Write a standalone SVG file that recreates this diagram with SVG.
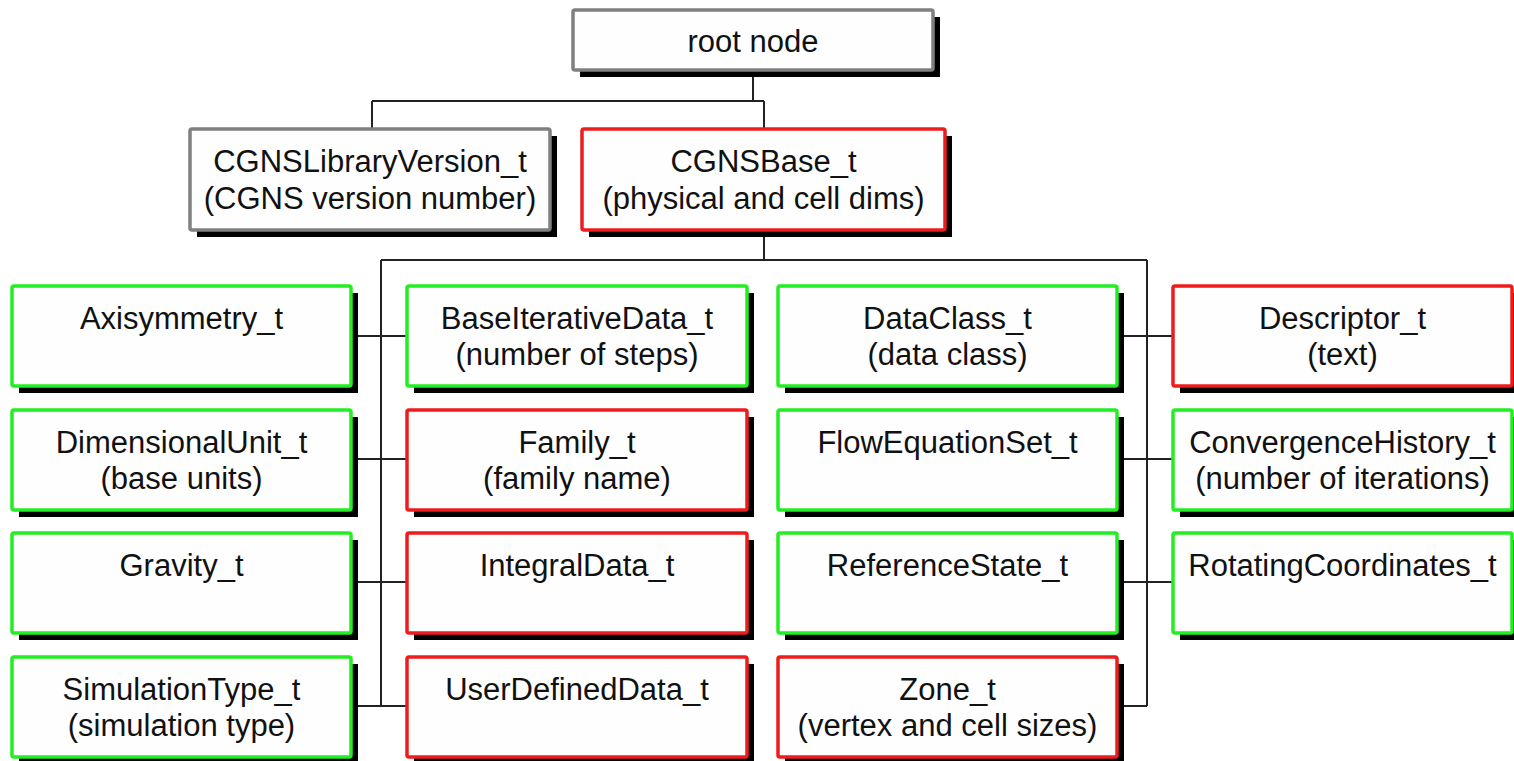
<svg xmlns="http://www.w3.org/2000/svg" width="1514" height="761" viewBox="0 0 1514 761">
<style>
.sh{fill:#000}
.bx{fill:#fefefe;stroke-width:3.5}
.g{stroke:#22ee22}
.r{stroke:#ee1c1c}
.k{stroke:#808080}
text{font-family:"Liberation Sans",Arial,sans-serif;font-size:31px;fill:#111;text-anchor:middle}
.c{stroke:#222;stroke-width:2;fill:none}
</style>
<rect width="1514" height="761" fill="#fff"/>
<g id="connectors">
<path class="c" d="M753 70V101M372 101H764M372 101V129M764 101V129"/>
<path class="c" d="M764 230V260M381 260H1147M381 260V706M1147 260V706"/>
<path class="c" d="M351 336H407M351 459H407M351 582H407M351 706H407"/>
<path class="c" d="M1117 336H1173M1117 459H1173M1117 582H1173M1117 706H1147"/>
</g>
<g id="root"><rect class="sh" x="580" y="17" width="360" height="60"/><rect class="bx k" x="573" y="10" width="360" height="60" rx="2"/><text x="753" y="52">root node</text></g>
<g id="libver"><rect class="sh" x="197" y="136" width="360" height="101"/><rect class="bx k" x="190" y="129" width="360" height="101" rx="2"/><text x="370" y="172">CGNSLibraryVersion_t</text><text x="370" y="209">(CGNS version number)</text></g>
<g id="base"><rect class="sh" x="589" y="136" width="363" height="101"/><rect class="bx r" x="582" y="129" width="363" height="101" rx="2"/><text x="763.5" y="172">CGNSBase_t</text><text x="763.5" y="209">(physical and cell dims)</text></g>

<g id="axisym"><rect class="sh" x="19" y="293" width="339" height="100"/><rect class="bx g" x="12" y="286" width="339" height="100" rx="2"/><text x="181.5" y="329">Axisymmetry_t</text></g>
<g id="baseiter"><rect class="sh" x="414" y="293" width="340" height="100"/><rect class="bx g" x="407" y="286" width="340" height="100" rx="2"/><text x="577" y="329">BaseIterativeData_t</text><text x="577" y="365">(number of steps)</text></g>
<g id="dataclass"><rect class="sh" x="785" y="293" width="339" height="100"/><rect class="bx g" x="778" y="286" width="339" height="100" rx="2"/><text x="947.5" y="329">DataClass_t</text><text x="947.5" y="365">(data class)</text></g>
<g id="descriptor"><rect class="sh" x="1180" y="293" width="339" height="100"/><rect class="bx r" x="1173" y="286" width="339" height="100" rx="2"/><text x="1342.5" y="329">Descriptor_t</text><text x="1342.5" y="365">(text)</text></g>

<g id="dimunit"><rect class="sh" x="19" y="417" width="339" height="100"/><rect class="bx g" x="12" y="410" width="339" height="100" rx="2"/><text x="181.5" y="453">DimensionalUnit_t</text><text x="181.5" y="489">(base units)</text></g>
<g id="family"><rect class="sh" x="414" y="417" width="340" height="100"/><rect class="bx r" x="407" y="410" width="340" height="100" rx="2"/><text x="577" y="453">Family_t</text><text x="577" y="489">(family name)</text></g>
<g id="floweq"><rect class="sh" x="785" y="417" width="339" height="100"/><rect class="bx g" x="778" y="410" width="339" height="100" rx="2"/><text x="947.5" y="453">FlowEquationSet_t</text></g>
<g id="convhist"><rect class="sh" x="1180" y="417" width="339" height="100"/><rect class="bx g" x="1173" y="410" width="339" height="100" rx="2"/><text x="1342.5" y="453">ConvergenceHistory_t</text><text x="1342.5" y="489">(number of iterations)</text></g>

<g id="gravity"><rect class="sh" x="19" y="540" width="339" height="100"/><rect class="bx g" x="12" y="533" width="339" height="100" rx="2"/><text x="181.5" y="576">Gravity_t</text></g>
<g id="integral"><rect class="sh" x="414" y="540" width="340" height="100"/><rect class="bx r" x="407" y="533" width="340" height="100" rx="2"/><text x="577" y="576">IntegralData_t</text></g>
<g id="refstate"><rect class="sh" x="785" y="540" width="339" height="100"/><rect class="bx g" x="778" y="533" width="339" height="100" rx="2"/><text x="947.5" y="576">ReferenceState_t</text></g>
<g id="rotcoord"><rect class="sh" x="1180" y="540" width="339" height="100"/><rect class="bx g" x="1173" y="533" width="339" height="100" rx="2"/><text x="1342.5" y="576">RotatingCoordinates_t</text></g>

<g id="simtype"><rect class="sh" x="19" y="664" width="339" height="100"/><rect class="bx g" x="12" y="657" width="339" height="100" rx="2"/><text x="181.5" y="700">SimulationType_t</text><text x="181.5" y="736">(simulation type)</text></g>
<g id="userdef"><rect class="sh" x="414" y="664" width="340" height="100"/><rect class="bx r" x="407" y="657" width="340" height="100" rx="2"/><text x="577" y="700">UserDefinedData_t</text></g>
<g id="zone"><rect class="sh" x="785" y="664" width="339" height="100"/><rect class="bx r" x="778" y="657" width="339" height="100" rx="2"/><text x="947.5" y="700">Zone_t</text><text x="947.5" y="736">(vertex and cell sizes)</text></g>
</svg>
